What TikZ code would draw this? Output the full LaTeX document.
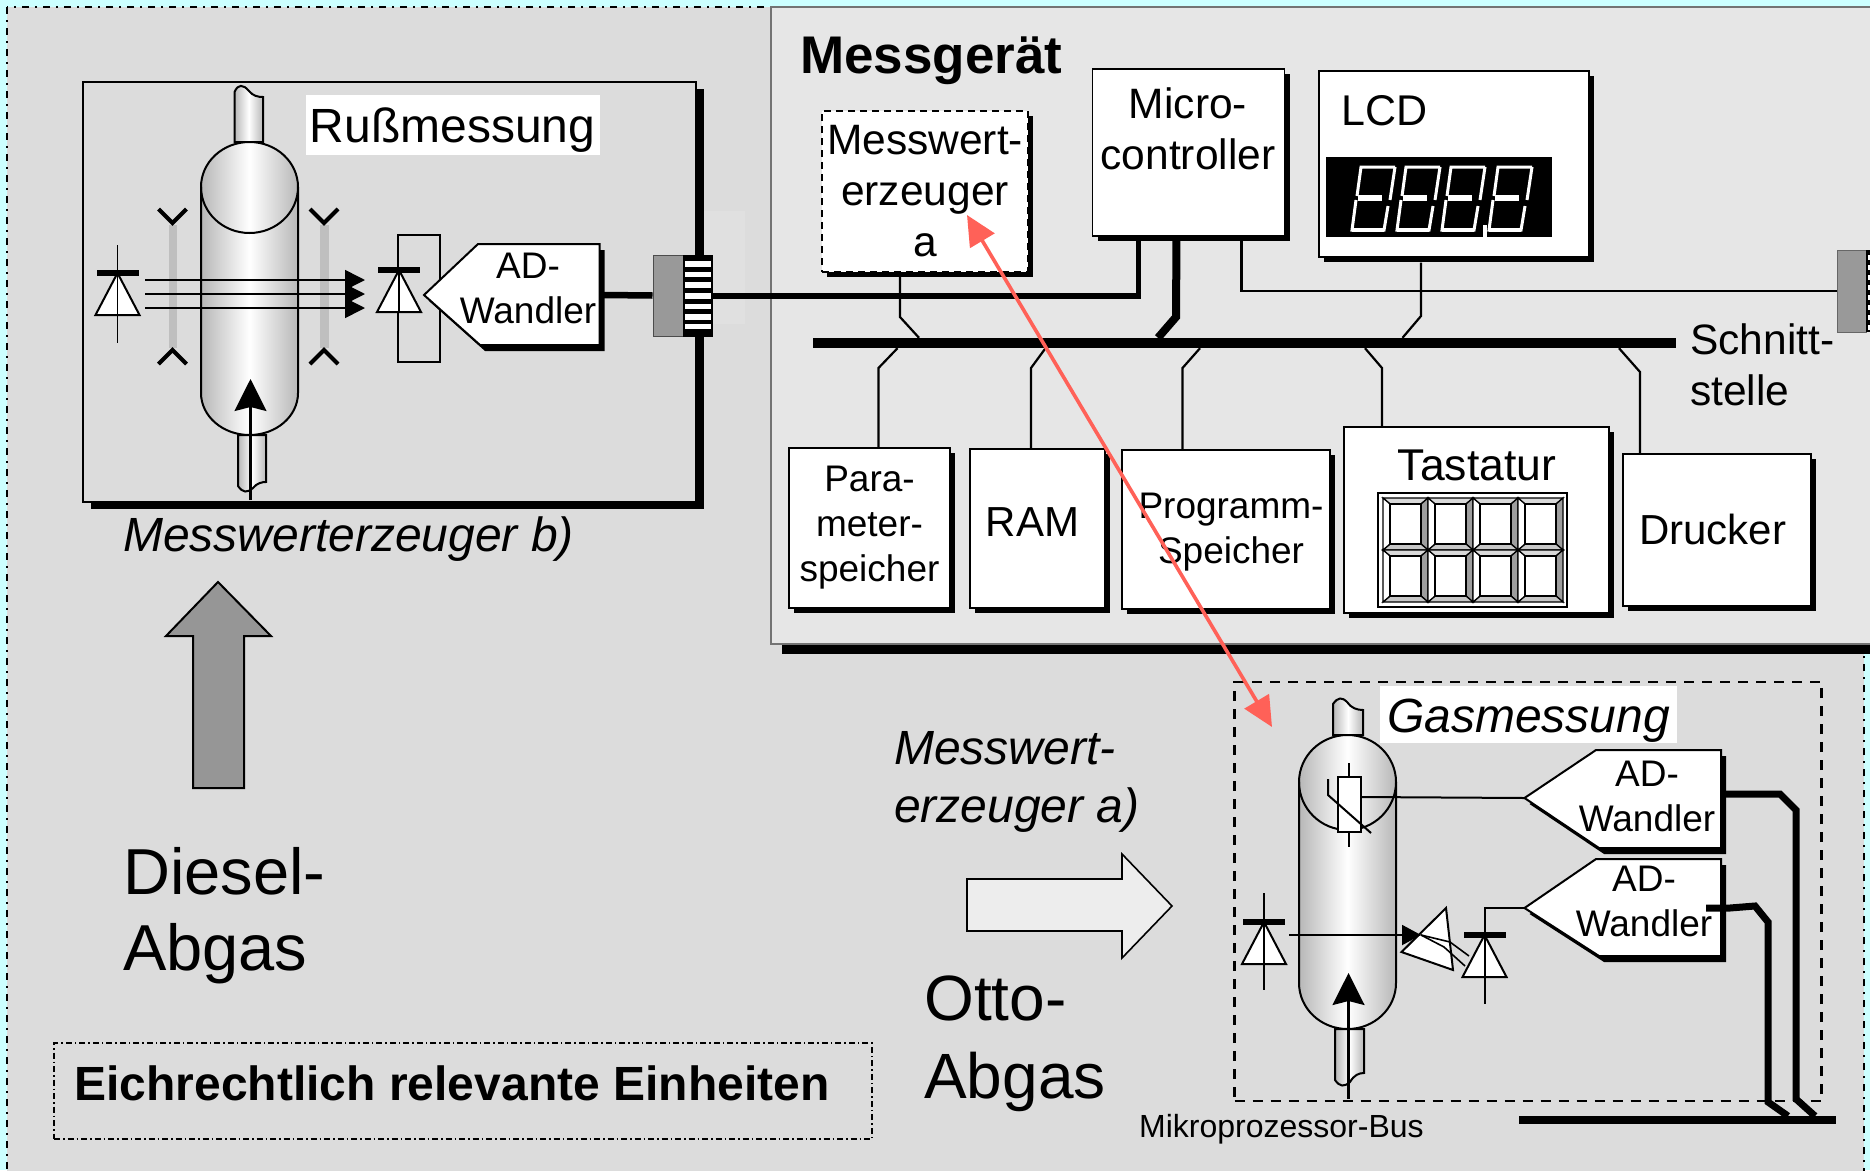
\documentclass[tikz,border=0pt]{standalone}
\usepackage{fontspec}
\setmainfont{Liberation Sans}
\usetikzlibrary{shadows,arrows.meta}
\definecolor{seite}{HTML}{CCFFFF}
\definecolor{grund}{HTML}{DCDCDC}
\definecolor{panel}{HTML}{E6E6E6}
\definecolor{rot}{HTML}{FF6158}
\definecolor{steckergrau}{HTML}{999999}
\tikzset{
  t32/.style={inner sep=0pt,align=center,font=\fontsize{32}{38}\selectfont},
  t37/.style={inner sep=0pt,align=center,font=\fontsize{37}{45}\selectfont},
  t43/.style={inner sep=0pt,align=center,font=\fontsize{42.5}{51}\selectfont},
  t48/.style={inner sep=0pt,align=center,font=\fontsize{48}{58}\selectfont},
  t65/.style={inner sep=0pt,align=left,font=\fontsize{65}{76}\selectfont},
  kasten/.style={draw=black,fill=white,line width=1.3,inner sep=0pt,general shadow={fill=black,shadow xshift=5pt,shadow yshift=-5pt}},
  adform/.style={draw=black,fill=white,line width=2,general shadow={fill=black,shadow xshift=5pt,shadow yshift=-6pt}},
  leitung/.style={line width=2.2,line join=miter},
  dicklinie/.style={line width=7,line join=miter},
  beam/.style={line width=1.6,-{Triangle[length=20pt,width=20pt]}},
  gaspfeil/.style={line width=2.2,-{Stealth[length=32pt,width=32pt,inset=4pt]}},
  rohr/.style={draw=black,line width=2,left color=black!28,right color=black!28,middle color=white},
  diodebild/.pic={
    \filldraw[fill=white,draw=black,line width=2] (0,0) -- (22,42) -- (-22,42) -- cycle;
    \fill[black] (-21,-3) rectangle (21,3);
  }
}
\begin{document}
\begin{tikzpicture}[x=1pt,y=-1pt]
\useasboundingbox (0,0) rectangle (1870,1170);
\fill[seite] (0,0) rectangle (1870,1170);
\draw[fill=grund,line width=2.6,dash pattern=on 7pt off 6pt on 2pt off 6pt] (7,7) rectangle (1864,1185);

% messgeraet
\node[draw=black!55,fill=panel,line width=1.5,inner sep=0pt,minimum width=1130,minimum height=637,general shadow={fill=black,shadow xshift=11pt,shadow yshift=-10pt}] (messgeraet) at (1336,325.5) {};
\node[anchor=west,inner sep=0pt,font=\bfseries\fontsize{53}{60}\selectfont] (titel) at (800,61) {Messgerät};

\node[fill=black,minimum width=863,minimum height=10,inner sep=0pt] (bus) at (1244.5,343) {};
\node[kasten,t43,dash pattern=on 7pt off 5pt,line width=2.6,minimum width=206,minimum height=161] (mess) at (925,191.5) {Messwert-\\erzeuger\\a};
\node[kasten,minimum width=192,minimum height=167] (micro) at (1188.5,152.5) {};
\node[t43] (microtext) at (1188,129) {Micro-\\controller};
\node[kasten,minimum width=270,minimum height=186] (lcd) at (1454,164) {};
\node[t43,font=\fontsize{43}{51}\selectfont,anchor=base west] (lcdtext) at (1341,125) {LCD};
\node[fill=black,minimum width=226,minimum height=80,inner sep=0pt] (anzeige) at (1439,197) {};
\foreach \xd in {1350,1395,1440,1487} {
  \draw[white,line width=3] (\xd+7,196) -- (\xd+11,167) -- (\xd+45,167);
  \draw[white,line width=3] (\xd+45,167) -- (\xd+40,200);
  \draw[white,line width=3] (\xd+6,200) -- (\xd+2,230) -- (\xd+34,230) -- (\xd+38,206);
  \draw[white,line width=3.8] (\xd+2,230) -- (\xd+34,230);
  \draw[white,line width=5.5] (\xd+8,198) -- (\xd+32,198);
}
\fill[white] (1483,225) rectangle (1487,237);

\node[kasten,t37,minimum width=161,minimum height=160] (para) at (869.5,528) {Para-\\meter-\\speicher};
\node[kasten,font=\fontsize{42}{51}\selectfont,minimum width=135,minimum height=159] (ram) at (1037.5,528.5) {\raisebox{-7.5pt}[0pt][0pt]{RAM}\hspace*{10pt}};
\node[kasten,minimum width=208,minimum height=159] (prog) at (1226,529.5) {};
\node[t37] (progtext) at (1231,532) {Programm-\\Speicher};
\node[kasten,minimum width=265,minimum height=186] (tastatur) at (1476.5,520) {};
\node[t43,font=\fontsize{44.5}{51}\selectfont,anchor=base] (tasttext) at (1477,480) {Tastatur};
\node[kasten,font=\fontsize{42}{51}\selectfont,minimum width=188,minimum height=152] (drucker) at (1717,530) {\raisebox{-14pt}[0pt][0pt]{Drucker}\hspace*{9pt}};
\node[t43,align=left,anchor=north west] (schnitt) at (1690,323) {Schnitt-\\stelle};

% tastenfeld
\draw[line width=1.5] (1378,493) rectangle (1567,607);
\foreach \i in {0,...,3} \foreach \j in {0,1} {
  \begin{scope}[shift={({1383+45*\i},{498+52*\j})},line width=1.3]
    \filldraw[fill=black!15,draw=black] (0,0) -- (45,0) -- (38,6) -- (7,6) -- cycle;
    \filldraw[fill=black!38,draw=black] (45,0) -- (45,52) -- (38,46) -- (38,6) -- cycle;
    \filldraw[fill=black!22,draw=black] (0,52) -- (45,52) -- (38,46) -- (7,46) -- cycle;
    \filldraw[fill=white,draw=black] (0,0) -- (7,6) -- (7,46) -- (0,52) -- cycle;
    \filldraw[fill=white,draw=black] (7,6) rectangle (38,46);
  \end{scope}
}

% leitungen zum bus
\draw[leitung] ([xshift=-25pt]mess.south) -- (900,317) -- (bus.north -| 919,0);
\draw[leitung] ([xshift=9pt]para.north) -- (878.5,368) -- (bus.south -| 897.5,0);
\draw[leitung] ([xshift=-6.5pt]ram.north) -- (1031,368) -- (bus.south -| 1045.5,0);
\draw[leitung] ([xshift=-43.5pt]prog.north) -- (1182.5,368) -- (bus.south -| 1200,0);
\draw[leitung] ([xshift=-94.5pt]tastatur.north) -- (1382,368) -- (bus.south -| 1365,0);
\draw[leitung] ([xshift=-77pt]drucker.north) -- (1640,372) -- (bus.south -| 1619,0);
\draw[leitung] ([xshift=-33pt,yshift=-5pt]lcd.south) -- (1421,316) -- (bus.north -| 1402.5,0);
\draw[line width=8,line join=miter] ([xshift=-12pt]micro.south) -- (1176,317) -- (bus.north -| 1158,0);

% stecker rechts
\node[draw=black!60,fill=steckergrau,line width=1,inner sep=0pt,minimum width=29,minimum height=82] (schnittstecker) at (1851.5,291) {};
\fill[black] (1866,250) rectangle (1870,332);
\foreach \y in {255,265,...,325} \fill[white] (1868,\y) rectangle (1870,\y+5);
\draw[line width=2.6] ([xshift=53pt]micro.south) |- (schnittstecker.west);

% russmessung
\node[draw=black,fill=grund,line width=2.4,inner sep=0pt,minimum width=613,minimum height=420,general shadow={fill=black,shadow xshift=8pt,shadow yshift=-7pt}] (russ) at (389.5,292) {};
\fill[black!12] (704,211) rectangle (745,324);
\node[fill=white,inner sep=0pt,minimum width=294,minimum height=60,font=\fontsize{48}{58}\selectfont] (russtext) at (452.5,125) {\raisebox{-17pt}[0pt][0pt]{Rußmessung}};

\shade[rohr] (234.5,142) -- (234.5,92) .. controls (238,84) and (243,84) .. (249,91) .. controls (253,96) and (258,97) .. (263,97) -- (263,142) -- cycle;
\shade[rohr] (238,435) -- (238,486) .. controls (243,493) and (247,493) .. (253,488) .. controls (257,483) and (262,482) .. (266,482) -- (266,435) -- cycle;
\shade[rohr] (201,187) arc[start angle=180,end angle=0,x radius=48.5pt,y radius=45pt] -- (298,393) arc[start angle=0,end angle=-180,x radius=48.5pt,y radius=42pt] -- cycle;
\draw[line width=2] (201,187) arc[start angle=180,end angle=360,x radius=48.5pt,y radius=46pt];

\fill[black!25] (169,225) rectangle (177,348);
\fill[black!25] (320,225) rectangle (328.5,348);
\foreach \xc in {172.5,324} {
  \draw[line width=4] (\xc-14,209) -- (\xc,223) -- (\xc+14,209);
  \draw[line width=4] (\xc-14,364) -- (\xc,350) -- (\xc+14,364);
}
\foreach \y in {280,294,308} {
  \coordinate (strahla) at (145,\y);
  \coordinate (strahle) at (365,\y);
  \draw[beam] (strahla) -- (strahle);
}
\coordinate (fuss) at (250.5,500);
\coordinate (kopf) at (250.5,379);
\draw[gaspfeil] (fuss) -- (kopf);

\pic at (117.5,273) {diodebild};
\draw[line width=1.6] (117.5,245) -- (117.5,343);
\draw[line width=2] (398,235) rectangle (440,362);
\pic at (399,270) {diodebild};
\draw[line width=1.6] (399,270) -- (399,312);

\draw[adform] (424,295) coordinate (ad1spitze) -- (478,244) -- (599.5,244) -- (599.5,345) -- (480,345) -- cycle;
\node[t37] (ad1) at (528,288) {AD-\\Wandler};
\coordinate (ad1aus) at (604,295);

\node[draw=black!70,fill=steckergrau,line width=1,inner sep=0pt,minimum width=30,minimum height=81] (steckera) at (668,295.5) {};
\node[fill=black,inner sep=0pt,minimum width=30,minimum height=82] (steckerb) at (698,296) {};
\foreach \y in {261,271.7,282.4,293,303.7,314.4,323.5} \fill[white] (684.5,\y) rectangle (711,\y+5.5);
\draw[line width=6.5] (ad1aus) -- (steckera.west);
\draw[line width=5.5] (steckerb.east) -| ([xshift=-50pt,yshift=-4pt]micro.south);

\node[t48,anchor=base west,font=\itshape\fontsize{48}{58}\selectfont] (erzb) at (123,551) {Messwerterzeuger b)};
\draw[line width=2,fill=black!41] (218,582) -- (271,636) -- (244,636) -- (244,788) -- (193,788) -- (193,636) -- (166,636) -- cycle;
\node[t65,anchor=west] (diesel) at (123,916) {Diesel-\\Abgas};
\node[draw=black,line width=1.3,dash pattern=on 6pt off 3pt on 1.5pt off 3pt,inner sep=0pt,minimum width=818,minimum height=96,font=\bfseries\fontsize{48}{58}\selectfont] (eich) at (463,1091) {\raisebox{-9pt}[0pt][0pt]{Eichrechtlich relevante Einheiten}\hspace*{22pt}};

\node[t48,align=left,font=\itshape\fontsize{48}{58}\selectfont,anchor=west] (erza) at (894,782) {Messwert-\\erzeuger a)};
\draw[line width=1.6,fill=black!7] (967,879) -- (1122,879) -- (1122,854) -- (1172,906) -- (1122,958) -- (1122,931) -- (967,931) -- cycle;
\node[t65,anchor=west,font=\fontsize{64}{78}\selectfont] (otto) at (924,1044) {Otto-\\Abgas};
\node[t32,anchor=base west] (mikrobus) at (1139,1137) {Mikroprozessor-Bus};

% gasmessung
\node[draw=black,line width=2.5,dash pattern=on 10pt off 8pt,inner sep=0pt,minimum width=587,minimum height=419] (gas) at (1528,891.5) {};
\node[fill=white,inner sep=0pt,minimum width=297,minimum height=57,font=\itshape\fontsize{48}{58}\selectfont] (gastext) at (1528.5,714.5) {\raisebox{-17.5pt}[0pt][0pt]{Gasmessung}};

\shade[rohr] (1333,735) -- (1333,704) .. controls (1338,697) and (1342,697) .. (1347,702) .. controls (1351,708) and (1357,710) .. (1363,710) -- (1363,735) -- cycle;
\shade[rohr] (1335,1029) -- (1335,1080) .. controls (1340,1087) and (1344,1087) .. (1350,1082) .. controls (1354,1075) and (1359,1073) .. (1364,1073) -- (1364,1029) -- cycle;
\shade[rohr] (1299,782) arc[start angle=180,end angle=0,x radius=48.5pt,y radius=47pt] -- (1396,983) arc[start angle=0,end angle=-180,x radius=48.5pt,y radius=46pt] -- cycle;
\draw[line width=2] (1299,782) arc[start angle=180,end angle=360,x radius=48.5pt,y radius=48pt];

\draw[line width=2] (1349,763) -- (1349,847);
\node[draw=black,fill=white,line width=2,inner sep=0pt,minimum width=23,minimum height=55] (thermo) at (1349.5,804.5) {};
\draw[line width=2] (1328,779) -- (1328,795) -- (1371,833);

\draw[adform] (1524.5,798) coordinate (ad2spitze) -- (1596,750) -- (1721,750) -- (1721,848) -- (1599,848) -- cycle;
\node[t37] (ad2) at (1647,796) {AD-\\Wandler};
\draw[adform] (1524.5,908) coordinate (ad3spitze) -- (1596,859) -- (1721,859) -- (1721,956) -- (1599,956) -- cycle;
\node[t37] (ad3) at (1644,901) {AD-\\Wandler};
\draw[line width=2] ([yshift=7.5pt]thermo.east) -- (ad2spitze);

\coordinate (gasfuss) at (1348.5,1099);
\coordinate (gaskopf) at (1348.5,973);
\draw[gaspfeil] (gasfuss) -- (gaskopf);

\pic at (1264,922) {diodebild};
\draw[line width=1.6] (1264,893) -- (1264,990);
\coordinate (d3) at (1484.5,935);
\pic at (d3) {diodebild};
\draw[line width=2] (ad3spitze) -| ([yshift=-69pt]d3);

\coordinate (quelle) at (1289,935);
\coordinate (filterein) at (1421,935);
\filldraw[fill=white,draw=black,line width=2] (1446,908) -- (1401.5,952) -- (1453,970) -- cycle;
\draw[line width=2,-{Triangle[length=19pt,width=20pt]}] (quelle) -- (filterein);
\draw[line width=1.6] (filterein) -- (1450,942) -- (1469,956);
\draw[line width=1.6] (filterein) -- (1444,947) -- (1465,966);

\node[fill=black,inner sep=0pt,minimum width=316.5,minimum height=7.5] (unterbus) at (1677.5,1120) {};
\draw[dicklinie] (1725,794) -- (1780,794) -- (1796,810) -- (1796,1099) -- (unterbus.north -| 1815,0);
\draw[dicklinie] (1706,908) -- (1730,908) -- (1755,906) -- (1768,922) -- (1768,1102) -- (unterbus.north -| 1788,0);

% roter doppelpfeil
\coordinate (rotoben) at (967,215);
\coordinate (rotunten) at (1272,727);
\draw[rot,line width=3.6,{Triangle[length=30pt,width=28pt]}-{Triangle[length=30pt,width=28pt]}] (rotoben) -- (rotunten);
\end{tikzpicture}
\end{document}
